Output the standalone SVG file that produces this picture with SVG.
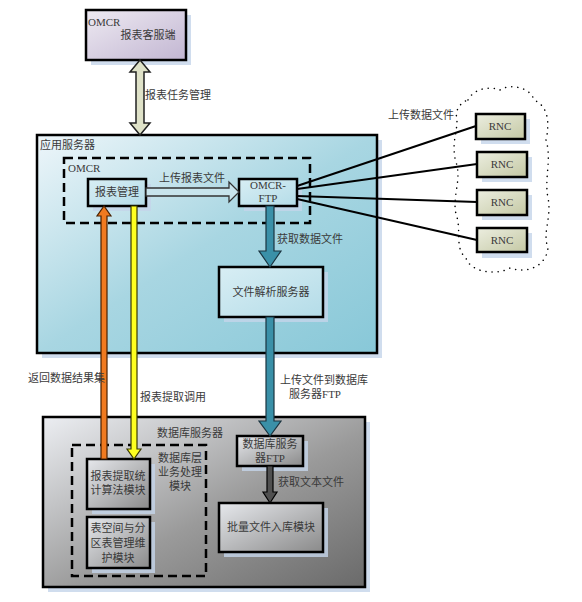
<svg xmlns="http://www.w3.org/2000/svg" width="582" height="602" viewBox="0 0 582 602">
<defs>
<linearGradient id="gLav" x1="0" y1="0" x2="1" y2="1"><stop offset="0" stop-color="#eeeaf2"/><stop offset="1" stop-color="#c2b6d2"/></linearGradient>
<linearGradient id="gApp" x1="0" y1="0" x2="1" y2="1"><stop offset="0" stop-color="#eef6fa"/><stop offset="0.5" stop-color="#a8d6e2"/><stop offset="1" stop-color="#88c8d8"/></linearGradient>
<linearGradient id="gCyan" x1="0" y1="0" x2="1" y2="1"><stop offset="0" stop-color="#d8eef4"/><stop offset="1" stop-color="#b4dce8"/></linearGradient>
<linearGradient id="gDb" x1="0" y1="0" x2="1" y2="1"><stop offset="0" stop-color="#eceef2"/><stop offset="0.55" stop-color="#9a9a9a"/><stop offset="1" stop-color="#6a6a6a"/></linearGradient>
<linearGradient id="gGray" x1="0" y1="0" x2="1" y2="1"><stop offset="0" stop-color="#e6e8ec"/><stop offset="1" stop-color="#8a8a8a"/></linearGradient>
<linearGradient id="gRnc" x1="0" y1="0" x2="1" y2="1"><stop offset="0" stop-color="#eceee0"/><stop offset="1" stop-color="#c4c8a4"/></linearGradient>
</defs>
<style>
.box{stroke:#000;stroke-width:2.5}
.inner{stroke:#000;stroke-width:2.5}
.sh{fill:#c4d4ea;opacity:0.8}
.dash{fill:none;stroke:#000;stroke-width:2.5;stroke-dasharray:9 5}
text{font-family:"Liberation Serif","Noto Sans CJK SC",serif;font-size:11px;fill:#3a3a3a}
.c{text-anchor:middle}
.ln{stroke:#000;stroke-width:2;fill:none}
</style>

<g id="omcr-client">
<rect class="sh" x="91" y="15" width="100" height="50"/>
<rect class="box" x="86" y="10" width="100" height="50" fill="url(#gLav)"/>
<text x="88" y="26" font-size="12">OMCR</text>
<text x="148" y="39" class="c">报表客服端</text>
</g>

<g id="app-server">
<rect class="sh" x="42" y="140" width="340" height="218"/>
<rect class="box" x="37" y="135" width="340" height="218" fill="url(#gApp)"/>
<text x="40" y="149">应用服务器</text>
</g>

<g id="omcr-group">
<rect class="dash" x="64" y="158" width="246" height="65"/>
<text x="68" y="172" font-size="12">OMCR</text>
</g>

<g id="report-mgmt">
<rect class="sh" x="93" y="184" width="58" height="27"/>
<rect class="inner" x="88" y="179" width="58" height="27" fill="url(#gCyan)"/>
<text x="117" y="196" class="c">报表管理</text>
</g>

<g id="omcr-ftp">
<rect class="sh" x="244" y="184" width="58" height="27"/>
<rect class="inner" x="239" y="179" width="58" height="27" fill="url(#gCyan)"/>
<text x="268" y="189" class="c">OMCR-</text>
<text x="268" y="202" class="c">FTP</text>
</g>

<g id="file-parser">
<rect class="sh" x="224" y="272" width="104" height="50"/>
<rect class="inner" x="219" y="267" width="104" height="50" fill="url(#gCyan)"/>
<text x="271" y="296" class="c">文件解析服务器</text>
</g>

<g id="db-server">
<rect class="sh" x="48" y="422" width="322" height="170"/>
<rect class="box" x="43" y="417" width="322" height="170" fill="url(#gDb)"/>
<text x="157" y="437">数据库服务器</text>
</g>

<g id="db-layer">
<rect class="dash" x="72" y="445" width="134" height="131"/>
<text x="180" y="462" class="c">数据库层</text>
<text x="180" y="476" class="c">业务处理</text>
<text x="180" y="490" class="c">模块</text>
</g>

<g id="report-algo">
<rect class="sh" x="92" y="464" width="63" height="50"/>
<rect class="inner" x="87" y="459" width="63" height="50" fill="url(#gGray)"/>
<text x="118" y="480" class="c">报表提取统</text>
<text x="118" y="494" class="c">计算法模块</text>
</g>

<g id="tablespace">
<rect class="sh" x="92" y="522" width="63" height="51"/>
<rect class="inner" x="87" y="517" width="63" height="51" fill="url(#gGray)"/>
<text x="118" y="532" class="c">表空间与分</text>
<text x="118" y="547" class="c">区表管理维</text>
<text x="118" y="562" class="c">护模块</text>
</g>

<g id="db-ftp">
<rect class="sh" x="242" y="441" width="66" height="30"/>
<rect class="inner" x="237" y="436" width="66" height="30" fill="url(#gGray)"/>
<text x="270" y="448" class="c">数据库服务</text>
<text x="270" y="462" class="c">器FTP</text>
</g>

<g id="batch-import">
<rect class="sh" x="224" y="508" width="104" height="49"/>
<rect class="inner" x="219" y="503" width="104" height="49" fill="url(#gGray)"/>
<text x="271" y="531" class="c">批量文件入库模块</text>
</g>

<g id="rnc-cloud">
<path d="M 468,100 C 474,88 490,86 500,90 C 508,84 530,86 534,100 C 548,106 550,122 546,140 C 552,160 544,178 548,198 C 552,218 542,232 548,248 C 546,266 528,274 510,268 C 496,276 470,272 466,258 C 454,248 462,230 456,214 C 452,196 462,180 456,162 C 450,142 460,128 456,114 C 458,106 462,102 468,100 Z" fill="none" stroke="#000" stroke-width="1.5" stroke-dasharray="0.1 6" stroke-linecap="round"/>
</g>

<g id="rnc1">
<rect class="sh" x="481" y="119" width="49" height="25"/>
<rect class="inner" x="476" y="114" width="49" height="25" fill="url(#gRnc)"/>
<text x="500" y="130" class="c">RNC</text>
</g>
<g id="rnc2">
<rect class="sh" x="482" y="157" width="50" height="25"/>
<rect class="inner" x="477" y="152" width="50" height="25" fill="url(#gRnc)"/>
<text x="502" y="168" class="c">RNC</text>
</g>
<g id="rnc3">
<rect class="sh" x="482" y="195" width="50" height="25"/>
<rect class="inner" x="477" y="190" width="50" height="25" fill="url(#gRnc)"/>
<text x="502" y="206" class="c">RNC</text>
</g>
<g id="rnc4">
<rect class="sh" x="482" y="233" width="50" height="25"/>
<rect class="inner" x="477" y="228" width="50" height="24" fill="url(#gRnc)"/>
<text x="502" y="244" class="c">RNC</text>
</g>

<g id="connectors">
<polygon points="140,60 150,72 144,72 144,123 150,123 140,135 130,123 136,123 136,72 130,72" fill="#dfe2c8" stroke="#222" stroke-width="1.5"/>
<text x="145" y="99">报表任务管理</text>

<polygon points="146,188 229,188 229,182 239,192 229,202 229,196 146,196" fill="#c8e4ec" stroke="#333" stroke-width="1.3"/>
<text x="159" y="182">上传报表文件</text>

<polygon points="266,206 274,206 274,251 281,251 270,267 259,251 266,251" fill="#3a90a8" stroke="#1a3440" stroke-width="1.2"/>
<text x="277" y="243">获取数据文件</text>

<polygon points="266,317 274,317 274,421 281,421 270,436 259,421 266,421" fill="#3a90a8" stroke="#1a3440" stroke-width="1.2"/>
<text x="280" y="384">上传文件到数据库</text>
<text x="315" y="398" class="c">服务器FTP</text>

<polygon points="267,466 273,466 273,492 277,492 270,503 263,492 267,492" fill="#505050" stroke="#000" stroke-width="1.2"/>
<text x="278" y="486">获取文本文件</text>

<polygon points="101,459 107,459 107,216 111,216 104,206 97,216 101,216" fill="#f07a20" stroke="#4a2000" stroke-width="1.2"/>
<text x="28" y="382">返回数据结果集</text>

<polygon points="131,206 137,206 137,449 141,449 134,459 127,449 131,449" fill="#ffff20" stroke="#3a3a00" stroke-width="1.2"/>
<text x="140" y="401">报表提取调用</text>

<line class="ln" x1="297" y1="186" x2="476" y2="126"/>
<line class="ln" x1="297" y1="189" x2="477" y2="164"/>
<line class="ln" x1="297" y1="196" x2="477" y2="202"/>
<line class="ln" x1="297" y1="199" x2="477" y2="240"/>
<text x="388" y="119">上传数据文件</text>
</g>
</svg>
